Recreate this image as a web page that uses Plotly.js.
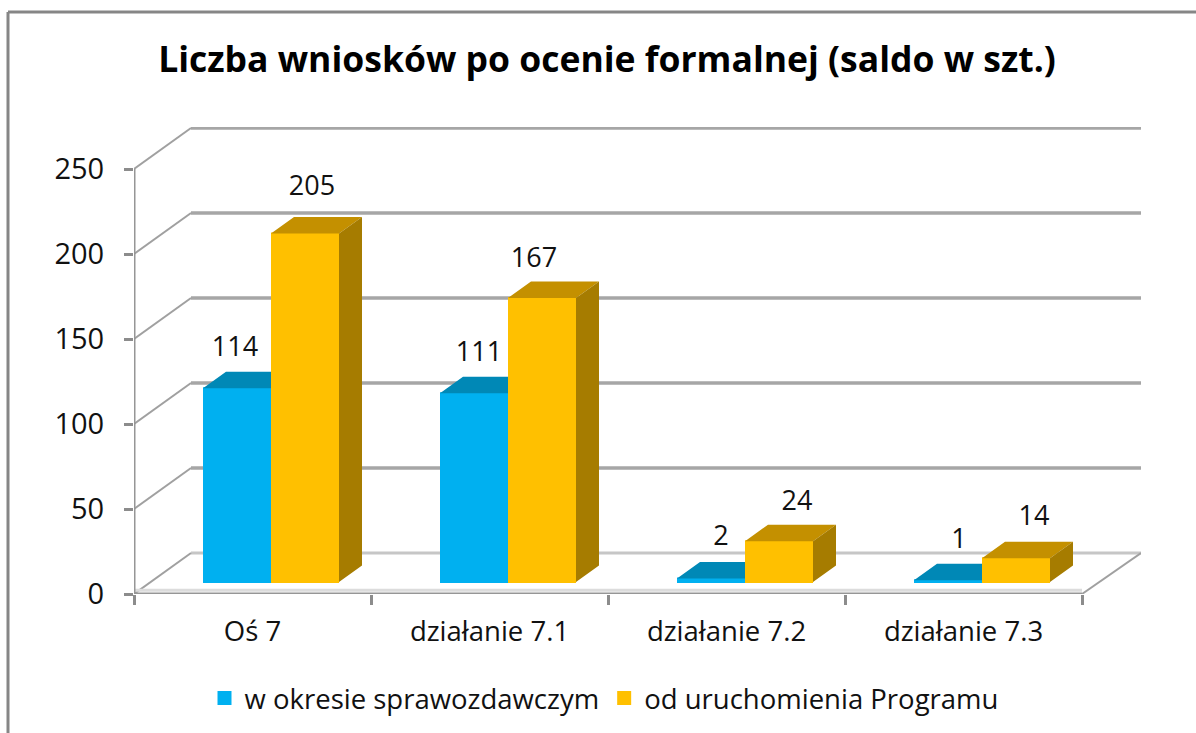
<!DOCTYPE html>
<html>
<head>
<meta charset="utf-8">
<script src="https://cdn.plot.ly/plotly-3.0.1.min.js"></script>
<style>html,body{margin:0;padding:0;background:#fff}#chart{width:1196px;height:733px}</style>
</head>
<body>
<div id="chart"></div>
<script>
// ---- data ----
var categories = ['Oś 7', 'działanie 7.1', 'działanie 7.2', 'działanie 7.3'];
var seriesNames = ['w okresie sprawozdawczym', 'od uruchomienia Programu'];
var valuesPeriod = [114, 111, 2, 1];
var valuesTotal = [205, 167, 24, 14];
var yTicks = [0, 50, 100, 150, 200, 250];
var titleText = 'Liczba wniosków po ocenie formalnej (saldo w szt.)';

// ---- layout constants (pixels of the 1196x733 page) ----
var W = 1196, H = 733;
var pxLeft = 134, pxRight = 1141, pxTop = 127, pxFront = 594, pxFloor = 582, pxBack = 553;
var pxPerCat = 237, pxPerUnit = 1.7, pxBackDx = 57;
var barW = 68 / pxPerCat, edge = 1 / pxPerCat;
var depthX = 23 / pxPerCat, depthY = 16.5 / pxPerUnit;
var labelRisePeriod = [39, 39, 40, 39], labelRiseTotal = [45, 38, 38, 40];
var labelShiftPeriod = [-2, 5, 10, 11], labelShiftTotal = [7, -8, 18, 18];
var FONT = '"Open Sans", sans-serif';
var TXT = '#111111';
var cx = categories.map(function (c, i) { return i; });

function poly(name, color, pts) {
  var xs = [], ys = [];
  pts.forEach(function (p) {
    p.forEach(function (q) { xs.push(q[0]); ys.push(q[1]); });
    xs.push(null); ys.push(null);
  });
  return {type: 'scatter', mode: 'lines', x: xs, y: ys, xaxis: 'x2', yaxis: 'y2', fill: 'toself',
    fillcolor: color, line: {width: 0, color: color}, hoverinfo: 'skip', showlegend: false, name: name};
}
function lineTrace(xs, ys, color, width) {
  return {type: 'scatter', mode: 'lines', x: xs, y: ys, line: {color: color, width: width},
    hoverinfo: 'skip', showlegend: false};
}

// wall, floor and front axis, on the front-plane axes
var backShiftX = pxBackDx / pxPerCat, backShiftY = (pxFront - pxBack) / pxPerUnit;
var xStart = -0.5, xEndFront = xStart + 4, xEndBack = xStart + (pxRight - pxLeft) / pxPerCat;
var wallX = [], wallY = [], diagX = [], diagY = [];
yTicks.forEach(function (v) {
  diagX.push(xStart, xStart + backShiftX, null);
  diagY.push(v, v + backShiftY, null);
  if (v > 0) {
    wallX.push(xStart + backShiftX, xEndBack, null);
    wallY.push(v + backShiftY, v + backShiftY, null);
  }
});
diagX.push(xEndFront, xEndBack);
diagY.push(0, backShiftY);
var wall = lineTrace(wallX, wallY, '#a6a6a6', 3.5);
var wallFloor = lineTrace([xStart + backShiftX, xEndBack], [backShiftY, backShiftY], '#c6c6c6', 3);
var diag = lineTrace(diagX, diagY, '#a0a0a0', 2);
var floorBand = lineTrace([xStart, xEndFront], [2.2, 2.2], '#dcdcdc', 3);
var frame = lineTrace([xStart, xStart, null, xStart, xEndFront], [250, 0, null, 0, 0], '#969696', 3);

// bars (the 2px outline brings each bar back to its full width)
function bars(name, vals, color, offset) {
  return {type: 'bar', name: name, x: cx, y: vals, xaxis: 'x2', yaxis: 'y2',
    width: barW - 2 * edge, offset: offset,
    marker: {color: color, line: {width: 2, color: color}}, hovertemplate: '%{y}<extra>' + name + '</extra>'};
}
var barPeriod = bars(seriesNames[0], valuesPeriod, '#00B0F0', -barW + edge);
var barTotal = bars(seriesNames[1], valuesTotal, '#FFC000', edge);

// 3D faces derived from the values
var topPeriod = poly('top1', '#0088B6', valuesPeriod.map(function (v, i) {
  return [[i - barW, v], [i - barW + depthX, v + depthY], [i, v + depthY], [i, v]];
}));
var topTotal = poly('top2', '#C49000', valuesTotal.map(function (v, i) {
  return [[i, v], [i + depthX, v + depthY], [i + barW + depthX, v + depthY], [i + barW, v]];
}));
var sideTotal = poly('side2', '#A67C00', valuesTotal.map(function (v, i) {
  return [[i + barW, 0], [i + barW + depthX, depthY], [i + barW + depthX, v + depthY], [i + barW, v]];
}));

function labels(vals, shift, sign, rise) {
  return {type: 'scatter', mode: 'text', xaxis: 'x2', yaxis: 'y2',
    x: vals.map(function (v, i) { return i + sign * barW / 2 + shift[i] / pxPerCat; }),
    y: vals.map(function (v, i) { return v + rise[i] / pxPerUnit; }),
    text: vals.map(String), textposition: 'middle center',
    textfont: {family: FONT, size: 27, color: TXT}, hoverinfo: 'skip', showlegend: false};
}

var domX = [pxLeft / W, pxRight / W], domY = [1 - pxFront / H, 1 - pxTop / H];
var layout = {
  width: W, height: H, margin: {l: 0, r: 0, t: 0, b: 0},
  paper_bgcolor: '#fff', plot_bgcolor: 'rgba(0,0,0,0)', showlegend: true, barmode: 'overlay',
  font: {family: FONT, color: TXT},
  title: {text: '<b>' + titleText + '</b>', x: 607 / W, y: 1 - 60 / H, xanchor: 'center', yanchor: 'middle',
    xref: 'paper', yref: 'paper', font: {family: FONT, size: 35.5, color: '#000'}},
  xaxis: {domain: domX, range: [xStart, xEndBack], type: 'linear', showgrid: false, zeroline: false, showline: false,
    tickmode: 'array', tickvals: cx, ticktext: categories, ticks: '', ticklabelstandoff: 18,
    tickfont: {family: FONT, size: 27.5, color: TXT},
    minor: {tick0: xStart, dtick: 1, ticks: 'outside', ticklen: 10, tickwidth: 3, tickcolor: '#8c8c8c', showgrid: false}},
  yaxis: {domain: domY, range: [0, (pxFront - pxTop) / pxPerUnit], showgrid: false, zeroline: false, showline: false,
    tickmode: 'array', tickvals: yTicks, ticks: 'outside', ticklen: 9, tickwidth: 3, tickcolor: '#8c8c8c',
    ticklabelstandoff: 14, tickfont: {family: FONT, size: 29, color: TXT}},
  xaxis2: {domain: domX, overlaying: 'x', anchor: 'y2', visible: false,
    range: [(pxLeft - 271) / pxPerCat, (pxRight - 271) / pxPerCat]},
  yaxis2: {domain: domY, overlaying: 'y', anchor: 'x2', visible: false,
    range: [(pxFloor - pxFront) / pxPerUnit, (pxFloor - pxTop) / pxPerUnit]},
  legend: {orientation: 'h', x: 604 / W, y: 1 - 698 / H, xanchor: 'center', yanchor: 'middle',
    font: {family: FONT, size: 27.5, color: TXT}, bgcolor: 'rgba(0,0,0,0)'},
  shapes: [
    {type: 'line', xref: 'paper', yref: 'paper', x0: 8 / W, x1: 1, y0: 1 - 12 / H, y1: 1 - 12 / H, line: {color: '#868686', width: 3}},
    {type: 'line', xref: 'paper', yref: 'paper', x0: 8 / W, x1: 8 / W, y0: 1 - 12 / H, y1: 0, line: {color: '#868686', width: 3}}
  ]
};
var traces = [wallFloor, wall, diag, floorBand, frame, barPeriod, barTotal, topPeriod, topTotal, sideTotal,
  labels(valuesPeriod, labelShiftPeriod, -1, labelRisePeriod), labels(valuesTotal, labelShiftTotal, 1, labelRiseTotal)];
Plotly.newPlot('chart', traces, layout, {displayModeBar: false, responsive: false});
</script>
</body>
</html>
